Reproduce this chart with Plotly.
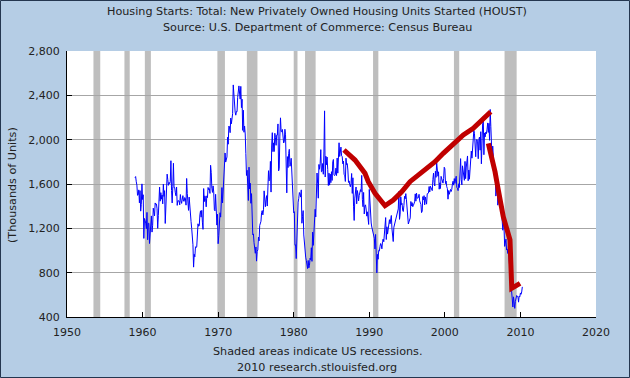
import plotly.graph_objects as go

# Monthly housing starts (thousands of units, SAAR), Jan 1959 .. Apr 2010
houst_1959_1969 = [
    1657, 1667, 1620, 1590, 1498, 1503, 1547, 1430, 1540, 1355, 1416, 1601,
    1460, 1503, 1109, 1289, 1271, 1247, 1197, 1344, 1097, 1246, 1246, 1063,
    1183, 1226, 1312, 1166, 1228, 1382, 1335, 1312, 1429, 1415, 1419, 1376,
    1200, 1314, 1448, 1572, 1445, 1522, 1463, 1501, 1421, 1599, 1488, 1540,
    1244, 1456, 1534, 1689, 1641, 1588, 1614, 1603, 1622, 1810, 1541, 1429,
    1577, 1787, 1566, 1568, 1521, 1494, 1573, 1407, 1449, 1446, 1447, 1412,
    1505, 1450, 1425, 1464, 1495, 1447, 1443, 1478, 1470, 1409, 1650, 1515,
    1386, 1362, 1482, 1369, 1296, 1261, 1199, 1125, 1052, 850, 966, 943,
    1034, 1027, 1032, 1133, 1241, 1219, 1223, 1321, 1358, 1301, 1362, 1256,
    1191, 1559, 1441, 1493, 1467, 1394, 1493, 1477, 1569, 1548, 1558, 1515,
    1769, 1705, 1561, 1524, 1583, 1528, 1368, 1358, 1507, 1381, 1229, 1327,
]
houst_1970s = [
    1061, 1135, 1329, 1341, 1301, 1408, 1568, 1429, 1565, 1547, 1680, 1880,
    1798, 1826, 1844, 2022, 1959, 2123, 2116, 2063, 2195, 2143, 2208, 2234,
    2494, 2390, 2334, 2249, 2221, 2254, 2252, 2382, 2481, 2485, 2421, 2366,
    2481, 2289, 2365, 2084, 2266, 2067, 2123, 2051, 1874, 1677, 1724, 1526,
    1451, 1752, 1555, 1607, 1426, 1513, 1316, 1142, 1150, 1070, 1026, 975,
    1032, 904, 993, 1005, 1121, 1087, 1226, 1260, 1264, 1344, 1360, 1321,
    1367, 1538, 1421, 1395, 1459, 1495, 1401, 1550, 1720, 1629, 1641, 1804,
    1527, 1943, 2063, 1892, 1971, 1893, 2058, 2020, 1949, 2042, 2042, 2142,
    1718, 1738, 2032, 2197, 2075, 2070, 2092, 1996, 1970, 1981, 2094, 2044,
    1630, 1520, 1847, 1748, 1876, 1913, 1760, 1778, 1832, 1681, 1524, 1498,
]
houst_1980s = [
    1341, 1350, 1047, 1051, 927, 1196, 1269, 1436, 1471, 1523, 1510, 1482,
    1547, 1246, 1306, 1360, 1140, 1045, 1041, 940, 911, 873, 837, 910,
    843, 866, 931, 917, 1025, 902, 1166, 1046, 1144, 1173, 1372, 1303,
    1586, 1699, 1606, 1472, 1776, 1733, 1785, 1910, 1710, 1715, 1785, 1688,
    1897, 2260, 1663, 1851, 1774, 1843, 1732, 1586, 1698, 1590, 1689, 1612,
    1711, 1632, 1800, 1821, 1680, 1676, 1684, 1743, 1676, 1834, 1698, 1942,
    1972, 1848, 1876, 1933, 1854, 1847, 1782, 1807, 1687, 1681, 1623, 1833,
    1774, 1784, 1726, 1614, 1628, 1594, 1575, 1605, 1695, 1515, 1656, 1400,
    1271, 1473, 1532, 1573, 1421, 1541, 1509, 1447, 1497, 1539, 1549, 1530,
    1678, 1461, 1395, 1524, 1330, 1402, 1412, 1374, 1310, 1349, 1313, 1235,
]
houst_1990s = [
    1551, 1437, 1289, 1248, 1212, 1177, 1171, 1115, 1110, 1014, 1145, 969,
    798, 965, 921, 1001, 996, 1036, 1063, 1049, 1015, 1079, 1103, 1079,
    1176, 1250, 1297, 1099, 1214, 1148, 1195, 1217, 1278, 1241, 1292, 1316,
    1196, 1160, 1081, 1209, 1237, 1249, 1266, 1311, 1331, 1364, 1375, 1533,
    1281, 1328, 1485, 1414, 1425, 1365, 1352, 1407, 1489, 1467, 1513, 1457,
    1368, 1282, 1239, 1258, 1275, 1294, 1442, 1402, 1432, 1395, 1406, 1431,
    1439, 1511, 1445, 1517, 1471, 1474, 1477, 1507, 1448, 1422, 1415, 1342,
    1355, 1486, 1457, 1495, 1412, 1483, 1441, 1418, 1512, 1512, 1518, 1577,
    1528, 1580, 1566, 1567, 1540, 1641, 1698, 1614, 1582, 1715, 1660, 1792,
    1748, 1670, 1710, 1553, 1611, 1559, 1669, 1648, 1635, 1608, 1648, 1751,
]
houst_2000s = [
    1737, 1604, 1626, 1575, 1559, 1463, 1541, 1507, 1549, 1551, 1532, 1551,
    1600, 1625, 1590, 1649, 1605, 1636, 1670, 1567, 1562, 1540, 1602, 1568,
    1698, 1829, 1642, 1592, 1764, 1717, 1655, 1633, 1804, 1648, 1753, 1788,
    1853, 1629, 1726, 1643, 1751, 1867, 1897, 1833, 1939, 1967, 2083, 2057,
    1911, 1846, 1998, 2003, 1981, 1828, 2002, 2024, 1905, 2072, 1782, 2042,
    2144, 2207, 1864, 2061, 2025, 2068, 2054, 2095, 2151, 2065, 2147, 1994,
    2273, 2119, 1969, 1821, 1942, 1802, 1737, 1650, 1720, 1491, 1570, 1649,
    1409, 1480, 1495, 1490, 1415, 1448, 1354, 1330, 1183, 1264, 1197, 1037,
    1084, 1103, 1005, 1013, 973, 1046, 923, 844, 820, 777, 652, 560,
    490, 582, 505, 478, 540, 585, 594, 586, 585, 534, 588, 581,
    617, 605, 626, 672,
]
start_year = 1959

# Hand-drawn red trend strokes (decimal year, value)
red1_years = [1986.65, 1988.11, 1989.43, 1989.87, 1990.76, 1992.08, 1993.18, 1994.29,
              1995.39, 1996.49, 1997.81, 1998.70, 1999.79, 2001.12, 2002.44, 2003.76,
              2005.09, 2006.07]
red1_values = [1907, 1816, 1696, 1621, 1516, 1404, 1456, 1530,
               1621, 1681, 1756, 1801, 1877, 1967, 2042, 2102,
               2193, 2252]
red2_years = [2005.75, 2006.20, 2006.64, 2007.07, 2007.73, 2008.62, 2008.71, 2008.85,
              2008.85, 2009.95]
red2_values = [1967, 1846, 1711, 1546, 1305, 1095, 944, 794, 659, 704]

# NBER recessions (decimal years)
rec_start = [1953.5, 1957.6, 1960.3, 1969.9, 1973.8, 1980.0, 1981.5, 1990.5, 2001.2, 2007.9]
rec_end = [1954.4, 1958.3, 1961.1, 1970.9, 1975.2, 1980.5, 1982.9, 1991.2, 2001.9, 2009.5]

x_ticks = list(range(1950, 2021, 10))
y_ticks = [400, 800, 1200, 1600, 2000, 2400, 2800]

values = houst_1959_1969 + houst_1970s + houst_1980s + houst_1990s + houst_2000s
months = [start_year + i / 12 for i in range(len(values))]

FONT = "DejaVu Sans"
TXT = "#222222"
W, H = 630, 378
L, R, T, B = 67, 34, 51, 61
pw, ph = W - L - R, H - T - B


def px_x(px):
    return (px - L) / pw


def px_y(py):
    return (H - B - py) / ph


fig = go.Figure()
fig.add_trace(go.Scatter(x=months, y=values, mode="lines",
                         line=dict(color="#0000FF", width=1), hoverinfo="skip"))
for xs, ys in [(red1_years, red1_values), (red2_years, red2_values)]:
    fig.add_trace(go.Scatter(x=xs, y=ys, mode="lines",
                             line=dict(color="#C00000", width=5),
                             hoverinfo="skip"))

shapes = []
for s, e in zip(rec_start, rec_end):
    shapes.append(dict(type="rect", xref="x", yref="paper", x0=s, x1=e, y0=0, y1=1,
                       fillcolor="#BEBEBE", line=dict(width=0), layer="below"))
shapes.append(dict(type="rect", xref="paper", yref="paper",
                   x0=px_x(0.5), x1=px_x(W - 0.5), y0=px_y(H - 0.5), y1=px_y(0.5),
                   line=dict(color="#24364f", width=1), fillcolor="rgba(0,0,0,0)", layer="above"))

annotations = [
    dict(text="Housing Starts: Total: New Privately Owned Housing Units Started (HOUST)",
         x=px_x(317), y=px_y(12)),
    dict(text="Source: U.S. Department of Commerce: Census Bureau",
         x=px_x(317), y=px_y(27)),
    dict(text="Shaded areas indicate US recessions.", x=px_x(317), y=px_y(351)),
    dict(text="2010 research.stlouisfed.org", x=px_x(317), y=px_y(367)),
    dict(text="(Thousands of Units)", x=px_x(12), y=px_y(185), textangle=-90),
]
for a in annotations:
    a.update(xref="paper", yref="paper", showarrow=False, xanchor="center", yanchor="middle",
             font=dict(family=FONT, size=11.2, color=TXT))

fig.update_layout(
    width=W, height=H,
    margin=dict(l=L, r=R, t=T, b=B),
    paper_bgcolor="#B5CDE5",
    plot_bgcolor="#FFFFFF",
    showlegend=False,
    shapes=shapes,
    annotations=annotations,
    xaxis=dict(range=[1950, 2020], tickvals=x_ticks, ticktext=[str(v) for v in x_ticks],
               ticks="inside", ticklen=5, tickcolor="#000000", showline=True,
               linecolor="#000000", linewidth=1, showgrid=False, zeroline=False,
               ticklabelstandoff=5,
               tickfont=dict(family=FONT, size=11, color=TXT)),
    yaxis=dict(range=[400, 2800], tickvals=y_ticks, ticktext=[f"{v:,}" for v in y_ticks],
               ticks="inside", ticklen=5, tickcolor="#000000", showline=True,
               linecolor="#000000", linewidth=1, showgrid=True, gridcolor="#A6A6A6",
               zeroline=False, ticklabelstandoff=4,
               tickfont=dict(family=FONT, size=11, color=TXT)),
)

fig.write_html("out.html", config={"displayModeBar": False},
               post_script="document.body.style.margin='0px';")
